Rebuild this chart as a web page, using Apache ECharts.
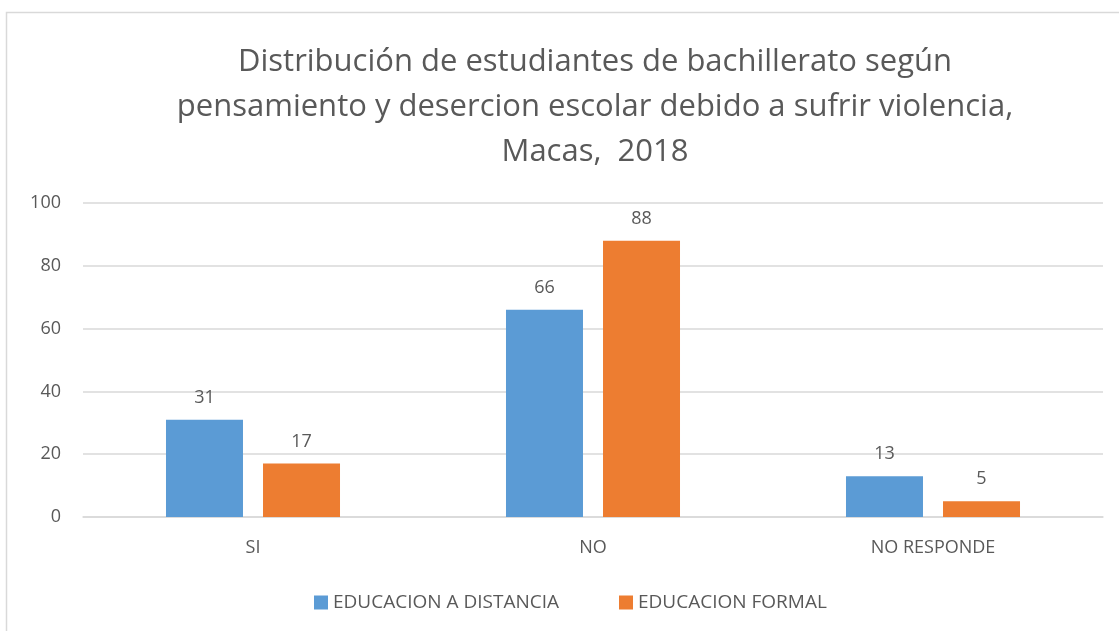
<!DOCTYPE html>
<html>
<head>
<meta charset="utf-8">
<script src="https://cdn.jsdelivr.net/npm/echarts@6/dist/echarts.min.js"></script>
<style>
  html, body { margin: 0; padding: 0; background: #fff; }
  #chart { width: 1119px; height: 631px; }
</style>
</head>
<body>
<div id="chart"></div>
<script>
const categories = ["SI", "NO", "NO RESPONDE"];
const distancia = [31, 66, 13];
const formal = [17, 88, 5];
const yTicks = { min: 0, max: 100, interval: 20 };

const titleText = "Distribución de estudiantes de bachillerato según\npensamiento y desercion escolar debido a sufrir violencia,\nMacas,  2018";

const font = "'Open Sans', 'Noto Sans', sans-serif";
const textColor = "#595959";

const chart = echarts.init(document.getElementById("chart"), null, { renderer: "canvas" });

chart.setOption({
  backgroundColor: "#ffffff",
  animation: false,
  graphic: [{
    type: "rect",
    shape: { x: 6.5, y: 12.5, width: 1300, height: 800 },
    style: { fill: "none", stroke: "#d9d9d9", lineWidth: 1.5 },
    silent: true
  }],
  title: {
    text: titleText,
    left: 590,
    top: 35,
    textAlign: "center",
    textStyle: {
      fontFamily: font,
      fontSize: 31,
      fontWeight: "normal",
      color: textColor,
      lineHeight: 45
    }
  },
  legend: {
    bottom: 14,
    left: 309,
    itemWidth: 14,
    itemHeight: 14,
    itemGap: 60,
    icon: "rect",
    textStyle: { fontFamily: font, fontSize: 19, color: textColor }
  },
  grid: { left: 83, right: 16, top: 203, bottom: 114, containLabel: false },
  xAxis: {
    type: "category",
    data: categories,
    axisLine: { lineStyle: { color: "#d9d9d9", width: 1.5 } },
    axisTick: { show: false },
    axisLabel: { fontFamily: font, fontSize: 18, color: textColor, margin: 22 }
  },
  yAxis: {
    type: "value",
    min: yTicks.min,
    max: yTicks.max,
    interval: yTicks.interval,
    axisLine: { show: false },
    axisTick: { show: false },
    splitLine: { lineStyle: { color: "#d9d9d9", width: 1.5 } },
    axisLabel: { fontFamily: font, fontSize: 18, color: textColor, margin: 22 }
  },
  series: [
    {
      name: "EDUCACION A DISTANCIA",
      type: "bar",
      data: distancia,
      barWidth: 77,
      barGap: "26%",
      itemStyle: { color: "#5b9bd5" },
      label: { show: true, position: "top", distance: 13, fontFamily: font, fontSize: 18, color: textColor }
    },
    {
      name: "EDUCACION FORMAL",
      type: "bar",
      data: formal,
      barWidth: 77,
      itemStyle: { color: "#ed7d31" },
      label: { show: true, position: "top", distance: 13, fontFamily: font, fontSize: 18, color: textColor }
    }
  ]
});
</script>
</body>
</html>
